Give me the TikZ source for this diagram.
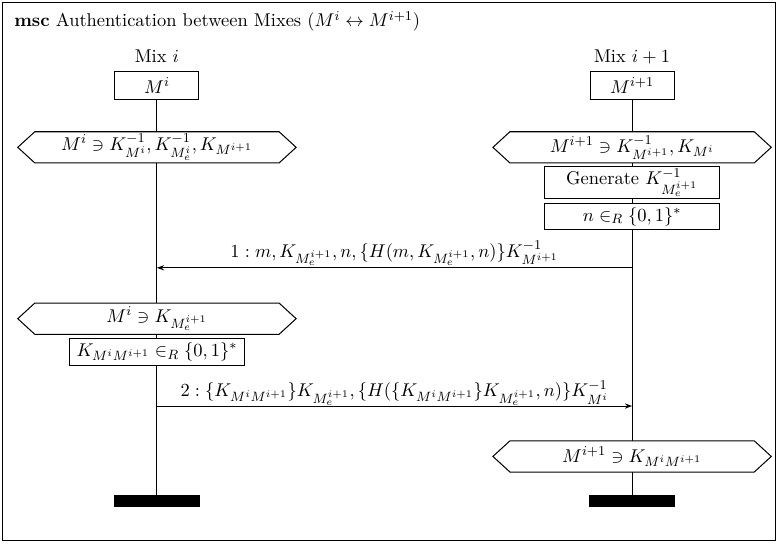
\documentclass[11pt,tikz,border=0pt]{standalone}
\usepackage{amsmath}
\usepackage{amssymb}
\usetikzlibrary{shapes.symbols, arrows.meta, positioning, backgrounds}
\tikzset{
	insthead/.style={rectangle, draw=black, line width=0.6pt, minimum width=1.75cm, minimum height=0.6cm, inner sep=1pt, fill=white},
	instfoot/.style={rectangle, fill=black, minimum width=1.79cm, minimum height=0.25cm, inner sep=0pt},
	cond/.style    ={signal, signal to=west and east, signal pointer angle=85, draw=black, line width=0.6pt, fill=white, minimum width=5.8cm, minimum height=0.65cm, inner sep=1pt},
	act/.style     ={rectangle, draw=black, line width=0.6pt, fill=white, minimum width=3.63cm, minimum height=0.56cm, inner sep=1pt},
	lifeline/.style={line width=0.6pt},
	msg/.style     ={-{Stealth[length=1.5mm, width=1.1mm]}, line width=0.6pt},
	msglabel/.style={anchor=base, yshift=0.22cm, inner sep=0pt},
}
\begin{document}
\begin{tikzpicture}
	\useasboundingbox (0,0) rectangle (16.21,-11.35);
	\draw[line width=0.6pt] (0.06,-0.06) rectangle (16.15,-11.27);
	\node[anchor=base west, inner sep=0pt] (title) at (0.29,-0.56) {\textbf{msc} Authentication between Mixes ($M^i \leftrightarrow M^{i+1}$)};
	% instances
	\node[insthead] (hA) at (3.27,-1.78) {$M^i$};
	\node[insthead] (hB) at (13.17,-1.78) {$M^{i+1}$};
	\node[anchor=base, inner sep=0pt] (nameA) at (3.27,-1.31) {Mix $i$};
	\node[anchor=base, inner sep=0pt] (nameB) at (13.17,-1.31) {Mix $i+1$};
	\node[instfoot] (fA) at (3.27,-10.44) {};
	\node[instfoot] (fB) at (13.17,-10.44) {};
	% conditions and actions
	\node[cond] (cA1) at (3.27,-3.07) {$M^i \ni K^{-1}_{M^i}, K^{-1}_{M^i_e}, K_{M^{i+1}}$};
	\node[cond] (cB1) at (13.17,-3.07) {$M^{i+1} \ni K^{-1}_{M^{i+1}}, K_{M^i}$};
	\node[act, below=0.06cm of cB1] (aB1) {Generate $K^{-1}_{M_e^{i+1}}$};
	\node[act, below=0.08cm of aB1] (aB2) {$n \in_R \{0,1\}^*$};
	\node[cond] (cA2) at (3.27,-6.64) {$M^i \ni K_{M_e^{i+1}}$};
	\node[act, below=0.06cm of cA2] (aA1) {$K_{M^iM^{i+1}} \in_R \{0,1\}^*$};
	\node[cond] (cB2) at (13.17,-9.51) {$M^{i+1} \ni K_{M^iM^{i+1}}$};
	% messages
	\coordinate (m1A) at (3.27,-5.58);
	\coordinate (m1B) at (13.17,-5.58);
	\coordinate (m2A) at (3.27,-8.46);
	\coordinate (m2B) at (13.17,-8.46);
	\draw[msg] (m1B) -- node[msglabel] {$1 : m, K_{M_e^{i+1}}, n, \{H(m, K_{M_e^{i+1}}, n)\}K^{-1}_{M^{i+1}}$} (m1A);
	\draw[msg] (m2A) -- node[msglabel, yshift=-0.03cm] {$2 : \{K_{M^iM^{i+1}}\}K_{M_e^{i+1}}, \{H(\{K_{M^iM^{i+1}}\}K_{M_e^{i+1}}, n)\}K^{-1}_{M^i}$} (m2B);
	\begin{scope}[on background layer]
		\draw[lifeline] (hA.south) -- (fA.north);
		\draw[lifeline] (hB.south) -- (fB.north);
	\end{scope}
\end{tikzpicture}
\end{document}
